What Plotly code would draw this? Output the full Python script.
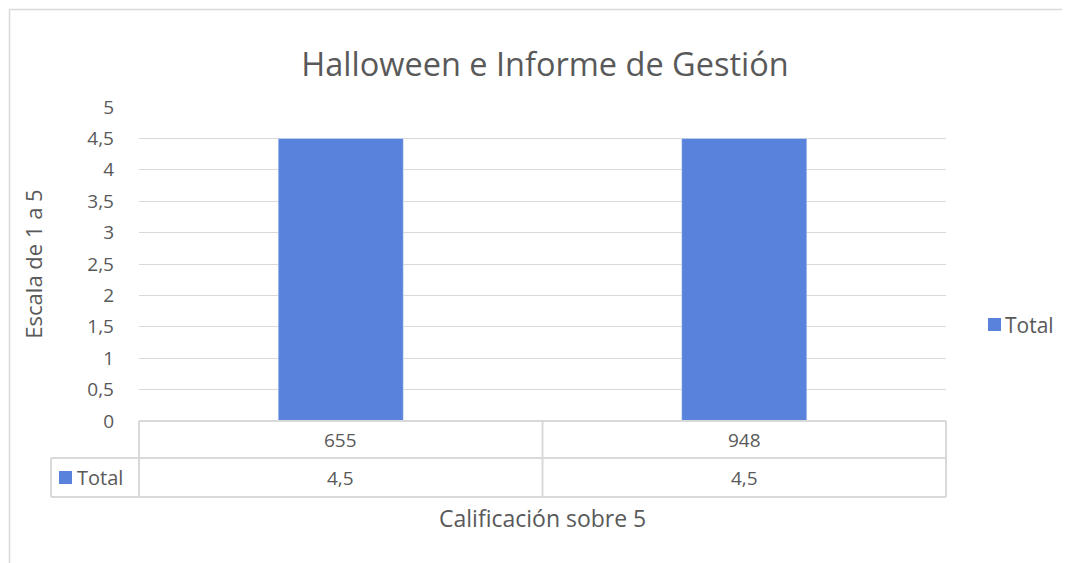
import plotly.graph_objects as go

categories = ["655", "948"]
totals = [4.5, 4.5]
series_name = "Total"
title = "Halloween e Informe de Gestión"
y_title = "Escala de 1 a 5"
x_title = "Calificación sobre 5"

# the page body has an 8px margin, so the figure is drawn 8px smaller
OFF = 8
W, H = 1070 - OFF, 563 - OFF
L, R, T, B = 139, 946, 107, 421  # plot area in screen pixels

BLUE = "#5882db"
GRID = "#d9d9d9"
TXT = "#595959"
FONT = "Open Sans"


def px_x(x):
    return (x - L) / (R - L)


def px_y(y):
    return (B - y) / (B - T)


fig = go.Figure()
fig.add_trace(go.Bar(x=categories, y=totals, name=series_name, marker_color=BLUE,
                     width=0.31, showlegend=False))

fig.update_layout(
    width=W, height=H,
    margin=dict(l=L - OFF, r=1070 - R, t=T - OFF, b=563 - B, autoexpand=False),
    paper_bgcolor="white", plot_bgcolor="white",
    separators=",.",
    font=dict(family=FONT, color=TXT, size=19),
    title=dict(text=title, x=px_x(545), xref="paper", xanchor="center",
               y=1 - (65 - OFF) / H, yanchor="middle", font=dict(size=32.5, color=TXT)),
    showlegend=False,
)
fig.update_xaxes(type="category", showticklabels=False, showgrid=False,
                 showline=False, zeroline=False, range=[-0.5, 1.5])
fig.update_yaxes(range=[0, 5], dtick=0.5, showgrid=True, gridcolor=GRID, gridwidth=1.3,
                 zeroline=False, showline=False, ticks="", ticklabelstandoff=24,
                 tickfont=dict(size=19, color=TXT),
                 title=dict(text=y_title, font=dict(size=22, color=TXT), standoff=38))

# data table beneath the plot
row1 = px_y(458)
row2 = px_y(497)
leg_left = px_x(51)
line = dict(color=GRID, width=2)
shapes = [
    dict(type="line", xref="paper", yref="paper", x0=0, x1=1, y0=0, y1=0, line=line),
    dict(type="line", xref="paper", yref="paper", x0=leg_left, x1=1, y0=row1, y1=row1, line=line),
    dict(type="line", xref="paper", yref="paper", x0=leg_left, x1=1, y0=row2, y1=row2, line=line),
    dict(type="line", xref="paper", yref="paper", x0=leg_left, x1=leg_left, y0=row1, y1=row2, line=line),
    dict(type="line", xref="paper", yref="paper", x0=0, x1=0, y0=0, y1=row2, line=line),
    dict(type="line", xref="paper", yref="paper", x0=0.5, x1=0.5, y0=0, y1=row2, line=line),
    dict(type="line", xref="paper", yref="paper", x0=1, x1=1, y0=0, y1=row2, line=line),
    # chart border (top and left visible)
    dict(type="line", xref="paper", yref="paper", x0=px_x(9), x1=px_x(1080),
         y0=px_y(9.5), y1=px_y(9.5), line=dict(color=GRID, width=1.5)),
    dict(type="line", xref="paper", yref="paper", x0=px_x(9.5), x1=px_x(9.5),
         y0=px_y(9), y1=px_y(580), line=dict(color=GRID, width=1.5)),
    # legend key in table
    dict(type="rect", xref="paper", yref="paper", x0=px_x(59), x1=px_x(72),
         y0=px_y(484), y1=px_y(471), fillcolor=BLUE, line=dict(width=0)),
    # legend key at right
    dict(type="rect", xref="paper", yref="paper", x0=px_x(988), x1=px_x(1001),
         y0=px_y(331), y1=px_y(318), fillcolor=BLUE, line=dict(width=0)),
]
annotations = []
for i, (cat, val) in enumerate(zip(categories, totals)):
    annotations.append(dict(x=i, y=(0 + row1) / 2, xref="x", yref="paper", text=cat,
                            xanchor="center", yanchor="middle", showarrow=False,
                            font=dict(size=19, color=TXT)))
    annotations.append(dict(x=i, y=(row1 + row2) / 2, xref="x", yref="paper",
                            text=f"{val:g}".replace(".", ","), xanchor="center",
                            yanchor="middle", showarrow=False, font=dict(size=19, color=TXT)))
annotations.append(dict(x=px_x(75), y=(row1 + row2) / 2, xref="paper", yref="paper",
                        text=series_name, xanchor="left", yanchor="middle", showarrow=False,
                        font=dict(size=20, color=TXT)))
annotations.append(dict(x=px_x(1003), y=px_y(324.5), xref="paper", yref="paper",
                        text=series_name, xanchor="left", yanchor="middle", showarrow=False,
                        font=dict(size=21, color=TXT)))
annotations.append(dict(x=px_x(542.5), y=px_y(518), xref="paper", yref="paper", text=x_title,
                        xanchor="center", yanchor="middle", showarrow=False,
                        font=dict(size=23, color=TXT)))
fig.update_layout(shapes=shapes, annotations=annotations)

fig.write_html("out.html")
